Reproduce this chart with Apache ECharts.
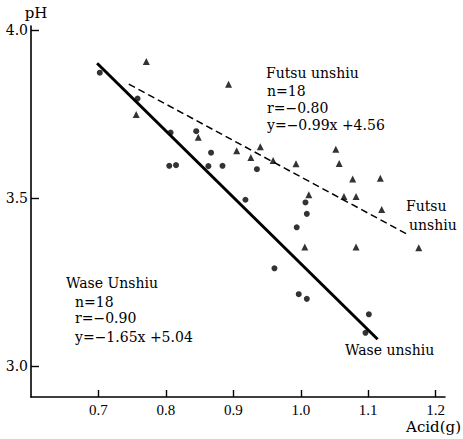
<!DOCTYPE html>
<html>
<head>
<meta charset="utf-8">
<script src="https://cdn.jsdelivr.net/npm/echarts@6/dist/echarts.min.js"></script>
<style>html,body{margin:0;padding:0;background:#fff;}#c{width:463px;height:439px;}</style>
</head>
<body>
<div id="c"></div>
<script>
// Wase unshiu (circles)
var waseX = [0.702, 0.758, 0.807, 0.805, 0.815, 0.845, 0.867, 0.863, 0.884, 0.935, 0.918, 1.007, 1.009, 0.994, 0.961, 0.997, 1.009, 1.101, 1.096];
var waseY = [3.873, 3.796, 3.695, 3.596, 3.598, 3.699, 3.635, 3.595, 3.596, 3.586, 3.495, 3.487, 3.453, 3.413, 3.291, 3.214, 3.200, 3.154, 3.099];
// Futsu unshiu (triangles)
var futsuX = [0.771, 0.756, 0.848, 0.893, 0.905, 0.940, 0.926, 0.959, 0.993, 1.052, 1.057, 1.077, 1.118, 1.012, 1.064, 1.082, 1.120, 1.006, 1.082, 1.175];
var futsuY = [3.906, 3.749, 3.681, 3.839, 3.641, 3.653, 3.621, 3.612, 3.602, 3.645, 3.603, 3.557, 3.559, 3.510, 3.505, 3.505, 3.466, 3.354, 3.354, 3.352];
// regression lines as drawn
var waseLineX = [0.698, 1.114];
var waseLineY = [3.901, 3.080];
var futsuLineX = [0.745, 1.160];
var futsuLineY = [3.839, 3.390];
// ticks
var xTicks = [0.7, 0.8, 0.9, 1.0, 1.1, 1.2];
var xTickLabels = ['0.7', '0.8', '0.9', '1.0', '1.1', '1.2'];
var yTicks = [3.0, 3.5, 4.0];
var yTickLabels = ['3.0', '3.5', '4.0'];

function zip(a, b) { return a.map(function (v, i) { return [v, b[i]]; }); }
function labeler(ticks, labels) {
  return function (v) {
    var n = Number(v);
    for (var i = 0; i < ticks.length; i++) { if (Math.abs(ticks[i] - n) < 1e-6) return labels[i]; }
    return '';
  };
}

var chart = echarts.init(document.getElementById('c'), null, {renderer: 'svg'});
var serif = 'DejaVu Serif';
function txt(x, y, s, align, size, font) {
  return {type: 'text', x: x, y: y, style: {text: s, fill: '#000', font: (size || 14) + 'px "' + (font || serif) + '"', textAlign: align || 'left', textVerticalAlign: 'middle'}};
}
chart.setOption({
  animation: false,
  backgroundColor: '#fff',
  grid: {left: 31, right: 18, top: 26, bottom: 42, containLabel: false, outerBoundsMode: 'none'},
  xAxis: {
    type: 'value', min: 0.6, max: 1.2139,
    axisLine: {lineStyle: {color: '#000', width: 1.6}},
    axisTick: {inside: true, length: 7, customValues: xTicks, lineStyle: {color: '#000', width: 1.4}},
    axisLabel: {customValues: xTicks, margin: 5, color: '#000', fontFamily: 'Liberation Serif', fontSize: 15,
      formatter: labeler(xTicks, xTickLabels)},
    splitLine: {show: false}
  },
  yAxis: {
    type: 'value', min: 2.908, max: 4.012,
    axisLine: {show: true, lineStyle: {color: '#000', width: 1.6}},
    axisTick: {show: true, inside: true, length: 8, customValues: yTicks, lineStyle: {color: '#000', width: 1.4}},
    axisLabel: {customValues: yTicks, margin: 3, color: '#000', fontFamily: serif, fontSize: 14,
      formatter: labeler(yTicks, yTickLabels)},
    splitLine: {show: false}
  },
  series: [
    {type: 'line', data: zip(waseLineX, waseLineY), symbol: 'none', lineStyle: {color: '#000', width: 3}, z: 2},
    {type: 'line', data: zip(futsuLineX, futsuLineY), symbol: 'none', lineStyle: {color: '#000', width: 1.5, type: [7, 4]}, z: 2},
    {type: 'scatter', data: zip(waseX, waseY), symbol: 'circle', symbolSize: 6, itemStyle: {color: '#000'}, z: 3},
    {type: 'scatter', data: zip(futsuX, futsuY), symbol: 'triangle', symbolSize: 7, itemStyle: {color: '#000'}, z: 3}
  ],
  graphic: [
    txt(36, 13, 'pH', 'center', 15),
    txt(461, 427, 'Acid(g)', 'right', 15),
    txt(266, 73, 'Futsu unshiu'),
    txt(267, 91, 'n=18'),
    txt(267, 108, 'r=−0.80'),
    txt(267, 125, 'y=−0.99x +4.56'),
    txt(406, 206, 'Futsu'),
    txt(409, 225, 'unshiu'),
    txt(66, 283, 'Wase Unshiu'),
    txt(75, 302, 'n=18'),
    txt(75, 318, 'r=−0.90'),
    txt(75, 337, 'y=−1.65x +5.04'),
    txt(345, 350, 'Wase unshiu')
  ]
});
</script>
</body>
</html>
